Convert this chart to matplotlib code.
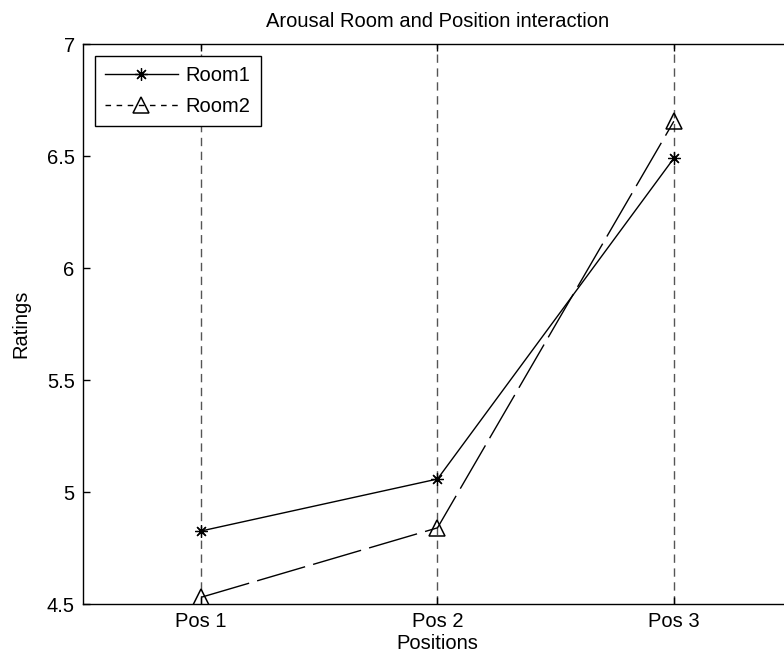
import matplotlib
matplotlib.use("Agg")
import matplotlib.pyplot as plt
from matplotlib.lines import Line2D

plt.rcParams['font.family'] = ['Liberation Sans', 'DejaVu Sans']

positions = [1, 2, 3]
pos_labels = ["Pos 1", "Pos 2", "Pos 3"]
room1 = [4.826, 5.058, 6.49]
room2 = [4.53, 4.84, 6.655]
yticks = [4.5, 5, 5.5, 6, 6.5, 7]
ytick_labels = ["4.5", "5", "5.5", "6", "6.5", "7"]

fig = plt.figure(figsize=(7.84, 6.59), dpi=100)
# axes run a bit past the right edge of the canvas
ax = fig.add_axes([83 / 784, 1 - 604 / 659, (792 - 83) / 784, (604 - 44) / 659])

asterisk = (8, 2, 0)
ax.plot(positions, room1, color='black', lw=1.0, marker=asterisk, ms=9, mew=0.9)
ax.plot(positions, room2, color='black', lw=1.0, marker='^', ms=11.5, mew=1.1,
        mfc='none', dashes=(36, 6))

ax.set_xlim(0.5, 3.5)
ax.set_ylim(4.5, 7)
ax.set_xticks(positions)
ax.set_xticklabels(pos_labels)
ax.set_yticks(yticks)
ax.set_yticklabels(ytick_labels)
ax.tick_params(direction='in', length=5, width=1, labelsize=14.5, top=True, right=True, pad=6)
ax.xaxis.grid(True, color='#555555', lw=1.0, dashes=(6, 4))
for s in ax.spines.values():
    s.set_linewidth(1.0)

ax.set_title("Arousal Room and Position interaction", fontsize=14.5, pad=12)
ax.set_xlabel("Positions", fontsize=14.5, labelpad=2)
ax.set_ylabel("Ratings", fontsize=14.5, labelpad=12)

handles = [
    Line2D([], [], color='black', lw=1.0, marker=asterisk, ms=9, mew=0.9),
    Line2D([], [], color='black', lw=1.0, marker='^', ms=11.5, mew=1.1, mfc='none', dashes=(4, 4)),
]
leg = ax.legend(handles, ["Room1", "Room2"], loc='upper left', fontsize=14.5,
                fancybox=False, edgecolor='black', framealpha=1, handlelength=3.6,
                borderaxespad=0.6, handletextpad=0.4, labelspacing=0.6, borderpad=0.5)
leg.get_frame().set_linewidth(1.0)

fig.savefig("out.png", dpi=100)
